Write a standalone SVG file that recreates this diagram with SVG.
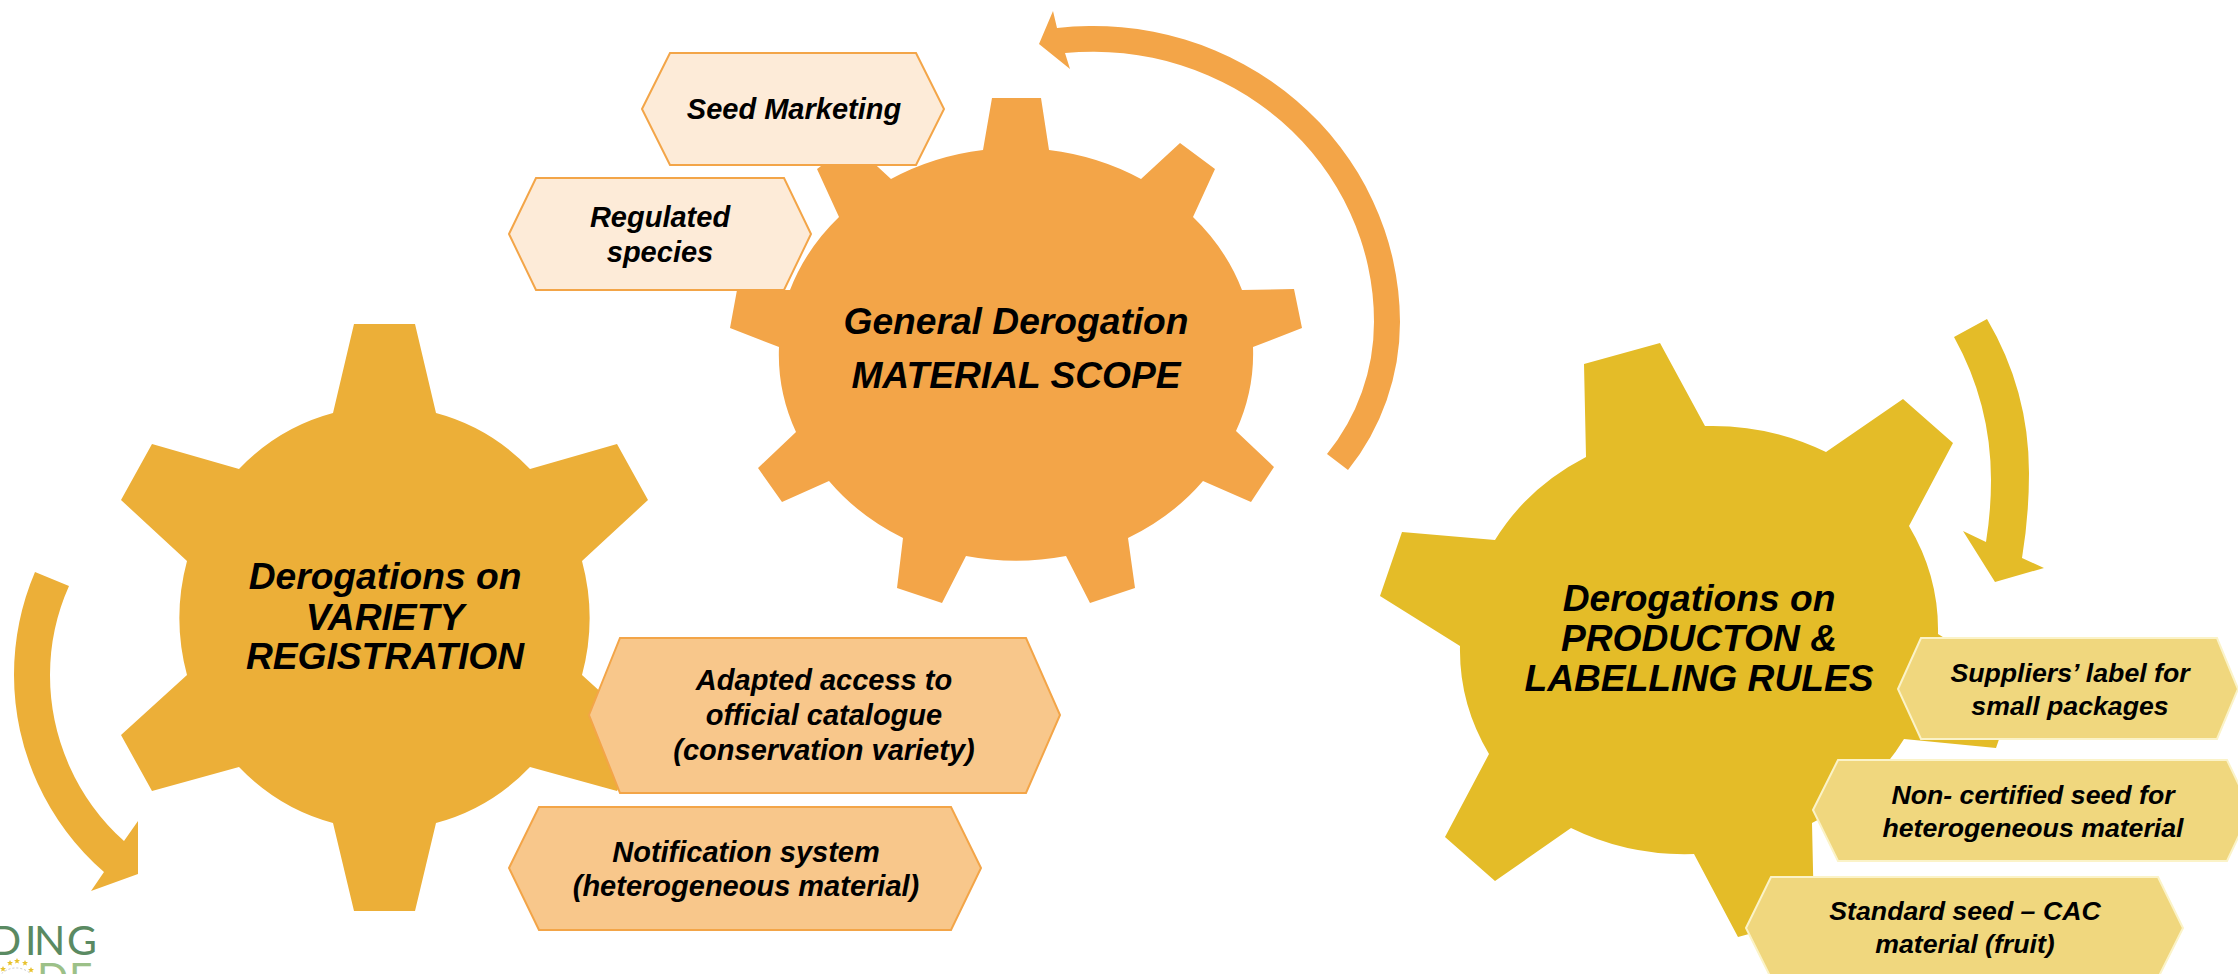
<svg xmlns="http://www.w3.org/2000/svg" width="2238" height="974" viewBox="0 0 2238 974">
<style>
text{font-family:"Liberation Sans",Arial,sans-serif;font-weight:700;font-style:italic;fill:#000;text-anchor:middle}
.g1{fill:#F3A548}.g2{fill:#ECAF38}.g3{fill:#E4BC28}
.big{font-size:37.2px}.mid{font-size:29px}.sm{font-size:26.7px}
.h1{fill:#FDEBD8;stroke:#F3A548;stroke-width:2}
.h2{fill:#F8C78B;stroke:#F3A548;stroke-width:2}
.h3{fill:#F0D77E;stroke:#FBF3C8;stroke-width:2}
text.logo{font-family:Lato,"Open Sans",sans-serif;font-weight:400;font-style:normal;text-anchor:start;font-size:41px}
.star{fill:#E8C22E}
</style>
<defs><polygon id="star" points="0,-3 0.9,-0.9 3,-0.9 1.3,0.5 1.9,2.6 0,1.4 -1.9,2.6 -1.3,0.5 -3,-0.9 -0.9,-0.9"/></defs>
<rect width="2238" height="974" fill="#fff"/>
<g id="connectors">
<path class="g1" d="M1057 28L1053 11L1039 44L1070 69L1065 53A281 270 0 0 1 1374 322A209 209 0 0 1 1327 454L1348 470A237 237 0 0 0 1400 322A307 297 0 0 0 1057 28Z"/>
<path class="g3" d="M1954 337A295 295 0 0 1 1991 480A387 387 0 0 1 1986 542L1963 531L1995 582L2044 568L2022 558A520 520 0 0 0 2029 473A303 303 0 0 0 1987 319Z"/>
<path class="g2" d="M35 572A263 263 0 0 0 14 675A261 261 0 0 0 104 872L91 891L138 874L138 821L124 841A223 223 0 0 1 50 675A218 218 0 0 1 69 586Z"/>
</g>
<g id="gear-variety">
<path class="g2" d="M354 324L415 324L436 413A204 212 0 0 1 530 469L617 444L648 500L582 561A204 212 0 0 1 582 675L648 735L617 791L530 767A204 212 0 0 1 436 823L415 911L354 911L333 823A204 212 0 0 1 239 767L152 791L121 735L187 675A204 212 0 0 1 187 561L121 500L152 444L239 469A204 212 0 0 1 333 413Z"/>
<text class="big" x="385" y="589">Derogations on</text>
<text class="big" x="385" y="630">VARIETY</text>
<text class="big" x="385" y="669">REGISTRATION</text>
</g>
<g id="gear-material">
<path class="g1" d="M992 98L1041 98L1049 150A237 207 0 0 1 1141 179L1180 143L1215 169L1193 217A237 207 0 0 1 1242 290L1294 289L1302 328L1253 347A237 207 0 0 1 1236 431L1274 467L1251 502L1203 481A237 207 0 0 1 1128 538L1135 588L1090 603L1066 556A237 207 0 0 1 966 556L942 603L897 588L903 538A237 207 0 0 1 829 481L782 502L758 468L796 432A237 207 0 0 1 779 347L730 328L737 290L790 290A237 207 0 0 1 839 217L817 169L852 143L891 179A237 207 0 0 1 983 150Z"/>
<text class="big" x="1016" y="334">General Derogation</text>
<text class="big" x="1016" y="388">MATERIAL SCOPE</text>
</g>
<g id="gear-production">
<path class="g3" d="M1586 457L1584 364L1660 343L1705 426A240 218 0 0 1 1826 452L1903 399L1953 443L1909 526A240 218 0 0 1 1938 634L2018 684L1996 748L1904 739A240 218 0 0 1 1812 823L1814 916L1738 937L1694 854A240 218 0 0 1 1571 828L1495 881L1445 837L1489 754A240 218 0 0 1 1460 646L1380 596L1402 532L1495 540A240 218 0 0 1 1586 457Z"/>
<text class="big" x="1699" y="611">Derogations on</text>
<text class="big" x="1699" y="651">PRODUCTON &amp;</text>
<text class="big" x="1699" y="691">LABELLING RULES</text>
</g>
<g id="box-seed"><polygon class="h1" points="642,109 670,53 916,53 944,109 916,165 670,165"/><text class="mid" x="794" y="119">Seed Marketing</text></g>
<g id="box-regulated"><polygon class="h1" points="509,234 536,178 784,178 811,234 784,290 536,290"/><text class="mid" x="660" y="227">Regulated</text><text class="mid" x="660" y="262">species</text></g>
<g id="box-adapted"><polygon class="h2" points="589,715 620,638 1026,638 1060,715 1026,793 620,793"/><text class="mid" x="824" y="690">Adapted access to</text><text class="mid" x="824" y="725">official catalogue</text><text class="mid" x="824" y="760">(conservation variety)</text></g>
<g id="box-notification"><polygon class="h2" points="509,868 539,807 951,807 981,868 951,930 539,930"/><text class="mid" x="746" y="862">Notification system</text><text class="mid" x="746" y="896">(heterogeneous material)</text></g>
<g id="box-suppliers"><polygon class="h3" points="1898,689 1921,638 2217,638 2238,689 2217,739 1921,739"/><text class="sm" x="2070" y="682">Suppliers’ label for</text><text class="sm" x="2070" y="715">small packages</text></g>
<g id="box-noncertified"><polygon class="h3" points="1813,810 1838,760 2227,760 2251,810 2227,861 1838,861"/><text class="sm" x="2033" y="804">Non- certified seed for</text><text class="sm" x="2033" y="837">heterogeneous material</text></g>
<g id="box-standard"><polygon class="h3" points="1746,928 1771,877 2158,877 2183,928 2158,978 1771,978"/><text class="sm" x="1965" y="920">Standard seed – CAC</text><text class="sm" x="1965" y="953">material (fruit)</text></g>
<g id="logo">
<text class="logo" x="-10 25 34 67" y="955" style="fill:#5A8A62">DING</text>
<text class="logo" x="37 69" y="992" style="fill:#9CC088">DE</text>
<path d="M-3 980A21 21 0 0 1 35 980" fill="none" stroke="#C8C8C8" stroke-width="1" stroke-dasharray="2 2"/>
<use href="#star" class="star" x="3" y="969"/><use href="#star" class="star" x="10" y="963"/><use href="#star" class="star" x="17" y="961"/><use href="#star" class="star" x="25" y="963"/><use href="#star" class="star" x="31" y="970"/>
</g>
</svg>
